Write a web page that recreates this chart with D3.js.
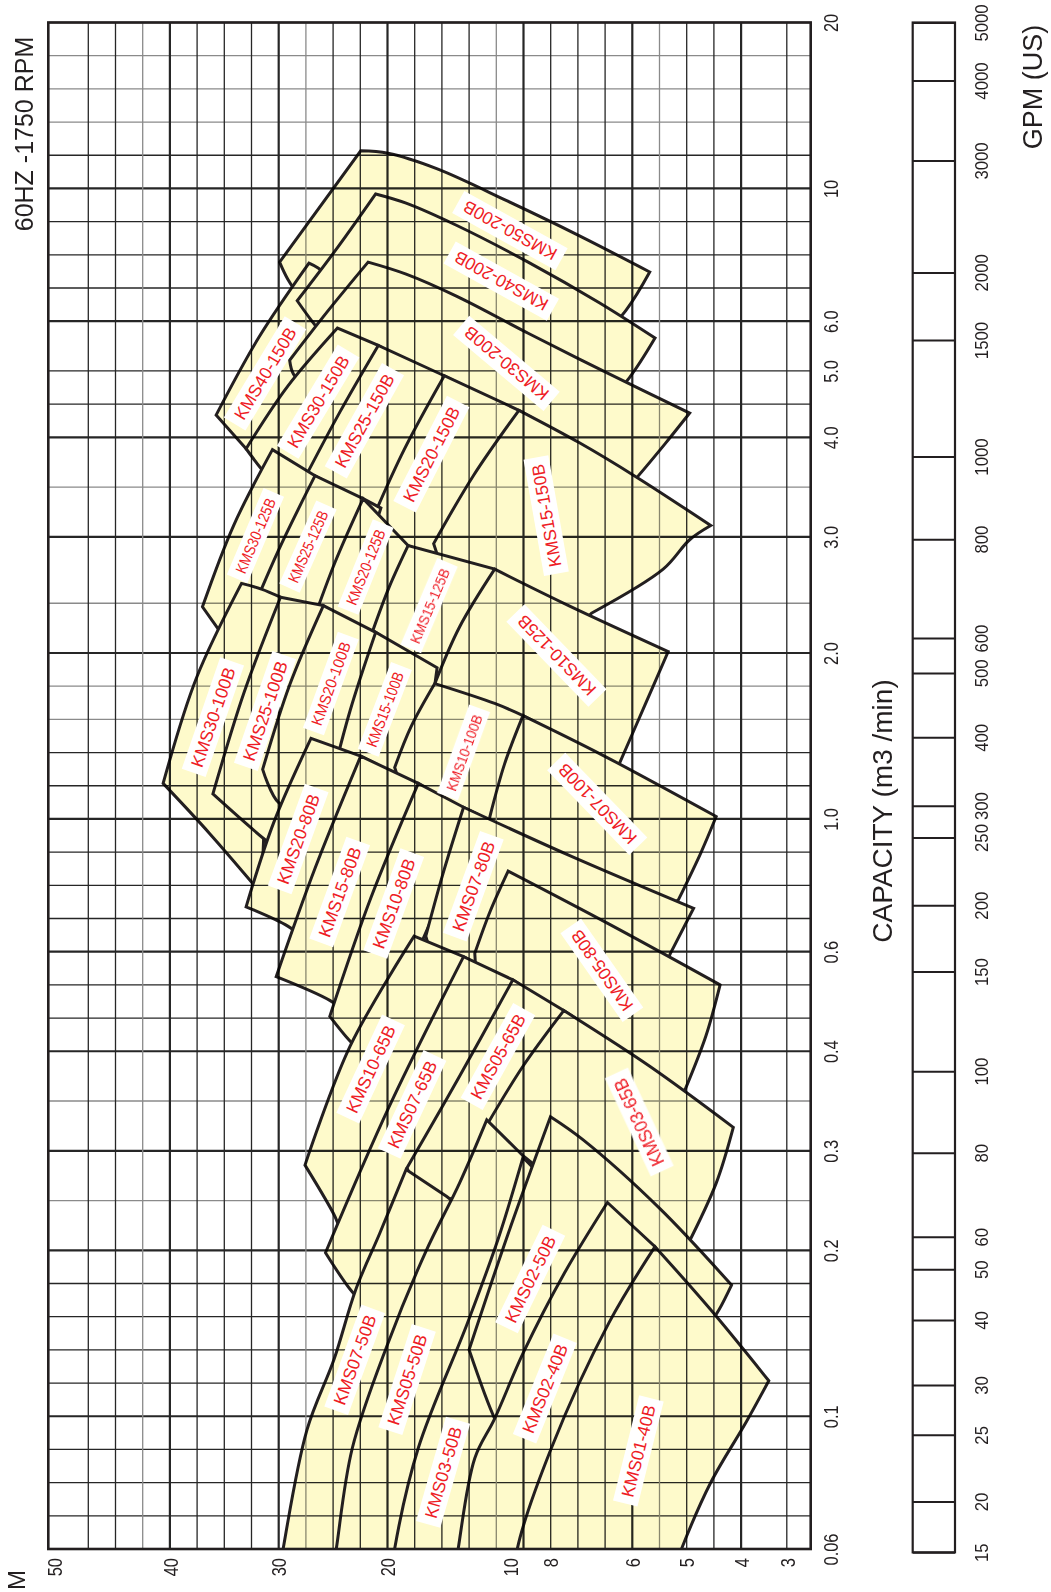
<!DOCTYPE html>
<html>
<head>
<meta charset="utf-8">
<script src="https://cdn.jsdelivr.net/npm/d3@7"></script>
<style>
  body { margin: 0; background: #fff; }
  text { font-family: "Liberation Sans", Arial, Helvetica, sans-serif; }
</style>
</head>
<body>
<div id="chart"></div>
<script>
// ---- data ----
const capTicks = [20, 10, 6, 5, 4, 3, 2, 1, 0.6, 0.4, 0.3, 0.2, 0.1, 0.06];
const capLabels = ["20", "10", "6.0", "5.0", "4.0", "3.0", "2.0", "1.0", "0.6", "0.4", "0.3", "0.2", "0.1", "0.06"];
const headTicks = [50, 40, 30, 20, 10, 8, 6, 5, 4, 3];
const gpmTicks = [5000, 4000, 3000, 2000, 1500, 1000, 800, 600, 500, 400, 300, 250, 200, 150, 100, 80, 60, 50, 40, 30, 25, 20, 15];

// pump label anchors [name, capacity m3/min, head m]
const pumpLabels = [
  ["KMS50-200B", 8.5, 10.0], ["KMS40-200B", 7.0, 10.5], ["KMS30-200B", 5.14, 10.2],
  ["KMS40-150B", 4.96, 31.1], ["KMS30-150B", 4.51, 25.9], ["KMS25-150B", 4.23, 21.8],
  ["KMS20-150B", 3.81, 15.6], ["KMS15-150B", 3.19, 8.2],
  ["KMS30-125B", 3.01, 31.9], ["KMS25-125B", 2.9, 26.9], ["KMS20-125B", 2.7, 21.7],
  ["KMS15-125B", 2.36, 15.8], ["KMS10-125B", 1.98, 7.84],
  ["KMS30-100B", 1.53, 35.7], ["KMS25-100B", 1.57, 31.1], ["KMS20-100B", 1.76, 24.7],
  ["KMS15-100B", 1.58, 20.2], ["KMS10-100B", 1.32, 13.0], ["KMS07-100B", 1.065, 6.79],
  ["KMS20-80B", 0.926, 27.9], ["KMS15-80B", 0.755, 23.9], ["KMS10-80B", 0.722, 19.3],
  ["KMS07-80B", 0.772, 12.3], ["KMS05-80B", 0.556, 6.68],
  ["KMS10-65B", 0.38, 21.3], ["KMS07-65B", 0.343, 17.4], ["KMS05-65B", 0.394, 10.7],
  ["KMS03-65B", 0.326, 5.86],
  ["KMS07-50B", 0.1266, 22.6], ["KMS05-50B", 0.1166, 17.9], ["KMS03-50B", 0.0806, 14.6],
  ["KMS02-50B", 0.1774, 8.95], ["KMS02-40B", 0.1123, 8.26], ["KMS01-40B", 0.0875, 5.88]
];

// operating ranges, outlined edge by edge as [capacity m3/min, head m] points.
// listed in drawing order: later ranges overlap earlier ones
const ranges200and150 = [
  { name: "KMS50-200B", edges: [
    [[7.53, 29.9], [11.7, 22.1]],
    [[11.7, 22.1], [11.58, 19.95], [10.86, 15.14], [9.52, 10.12], [8.34, 7.24], [7.25, 5.66]],
    [[7.25, 5.66], [6.25, 6.14], [5.29, 7.12]],
    [[5.29, 7.12], [6.39, 27.2]],
    [[6.39, 27.2], [7.05, 29.0], [7.53, 29.9]]
  ]},
  { name: "KMS40-150B", edges: [
    [[4.31, 35.4], [5.66, 31.6], [7.50, 26.8]],
    [[7.50, 26.8], [7.36, 25.9], [6.86, 23.9]],
    [[6.86, 23.9], [5.49, 25.7], [3.94, 32.0]],
    [[3.94, 32.0], [3.87, 32.7]],
    [[3.87, 32.7], [4.31, 35.4]]
  ]},
  { name: "KMS40-200B", edges: [
    [[6.49, 28.0], [7.96, 24.1], [9.79, 20.9]],
    [[9.79, 20.9], [9.45, 18.0], [8.67, 13.5], [7.53, 9.05], [6.44, 6.74], [5.64, 5.56]],
    [[5.64, 5.56], [4.89, 6.06], [4.37, 6.74]],
    [[4.37, 6.74], [5.53, 24.8]],
    [[5.53, 24.8], [6.03, 26.6], [6.49, 28.0]]
  ]},
  { name: "KMS30-200B", edges: [
    [[5.20, 28.8], [6.20, 25.1], [7.53, 21.5]],
    [[7.53, 21.5], [7.19, 18.0], [6.60, 13.5], [5.74, 9.05], [4.95, 6.51], [4.34, 4.94]],
    [[4.34, 4.94], [3.93, 5.37], [3.56, 5.91], [3.31, 6.39]],
    [[3.31, 6.39], [4.67, 26.7]],
    [[4.67, 26.7], [4.95, 28.4], [5.20, 28.8]]
  ]},
  { name: "KMS30-150B", edges: [
    [[3.87, 32.7], [4.75, 29.0], [5.85, 24.1]],
    [[5.85, 24.1], [5.49, 20.7]],
    [[5.49, 20.7], [5.29, 19.3]], [[5.29, 19.3], [3.46, 25.4]], [[3.46, 25.4], [3.44, 29.9]],
    [[3.44, 29.9], [3.65, 31.4], [3.87, 32.7]]
  ]},
  { name: "KMS25-150B", edges: [
    [[3.56, 27.2], [4.35, 23.9], [5.49, 20.7]],
    [[5.49, 20.7], [4.92, 14.5]],
    [[4.92, 14.5], [4.79, 13.3]], [[4.79, 13.3], [3.12, 19.6]], [[3.12, 19.6], [3.46, 26.2]],
    [[3.46, 26.2], [3.56, 27.2]]
  ]},
  { name: "KMS20-150B", edges: [
    [[3.12, 21.3], [3.86, 18.2], [4.92, 14.5]],
    [[4.92, 14.5], [4.38, 9.52]],
    [[4.38, 9.52], [4.26, 8.81]], [[4.26, 8.81], [2.68, 14.3]], [[2.68, 14.3], [2.99, 20.9]],
    [[2.99, 20.9], [3.12, 21.3]]
  ]},
  { name: "KMS15-150B", edges: [
    [[2.93, 15.4], [3.58, 12.3], [4.38, 9.52]],
    [[4.38, 9.52], [3.94, 7.24], [3.57, 5.93], [3.10, 4.53]],
    [[3.10, 4.53], [2.97, 4.94], [2.68, 5.41], [2.30, 6.92]],
    [[2.30, 6.92], [2.13, 7.51]], [[2.13, 7.51], [2.55, 14.3]],
    [[2.55, 14.3], [2.93, 15.4]]
  ]}
];

const ranges125 = [
  { name: "KMS30-125B", edges: [
    [[2.35, 36.7], [3.10, 33.8], [3.86, 30.5]],
    [[3.86, 30.5], [3.58, 26.2]],
    [[3.58, 26.2], [3.46, 24.3]], [[3.46, 24.3], [2.02, 29.4]], [[2.02, 29.4], [2.02, 33.8]],
    [[2.02, 33.8], [2.14, 34.9], [2.35, 36.7]]
  ]},
  { name: "KMS25-125B", edges: [
    [[2.18, 32.8], [2.84, 30.1], [3.58, 26.2]],
    [[3.58, 26.2], [3.35, 21.9]],
    [[3.35, 21.9], [3.26, 20.5]], [[3.26, 20.5], [2.02, 24.3]], [[2.02, 24.3], [1.94, 31.0]],
    [[1.94, 31.0], [2.18, 32.8]]
  ]},
  { name: "KMS20-125B", edges: [
    [[2.19, 26.6], [2.75, 24.3], [3.35, 21.9]],
    [[3.35, 21.9], [2.91, 17.8]],
    [[2.91, 17.8], [2.83, 16.0]], [[2.83, 16.0], [1.86, 20.1]], [[1.86, 20.1], [2.09, 25.2]],
    [[2.09, 25.2], [2.12, 26.0], [2.19, 26.6]]
  ]},
  { name: "KMS15-125B", edges: [
    [[2.17, 21.1], [2.52, 19.8], [2.91, 17.8]],
    [[2.91, 17.8], [2.68, 10.9]],
    [[2.68, 10.9], [2.57, 10.1]], [[2.57, 10.1], [1.64, 13.9]], [[1.64, 13.9], [1.94, 20.1]],
    [[1.94, 20.1], [2.17, 21.1]]
  ]},
  { name: "KMS10-125B", edges: [
    [[1.76, 15.3], [2.19, 13.3], [2.68, 10.9]],
    [[2.68, 10.9], [2.36, 7.51], [2.01, 5.32]],
    [[2.01, 5.32], [1.61, 5.75], [1.26, 6.28]],
    [[1.26, 6.28], [1.07, 6.74]], [[1.07, 6.74], [1.57, 15.1]],
    [[1.57, 15.1], [1.76, 15.3]]
  ]}
];

const ranges100 = [
  { name: "KMS30-100B", edges: [
    [[1.16, 40.5], [1.80, 37.3], [2.55, 33.1]],
    [[2.55, 33.1], [2.50, 31.4], [2.43, 29.8]],
    [[2.43, 29.8], [2.33, 28.8]], [[2.33, 28.8], [1.22, 31.0]], [[1.22, 31.0], [0.750, 31.4]],
    [[0.750, 31.4], [0.945, 36.0], [1.16, 40.5]]
  ]},
  { name: "KMS25-100B", edges: [
    [[1.11, 35.7], [1.69, 32.9], [2.43, 29.8]],
    [[2.43, 29.8], [2.36, 25.4]],
    [[2.36, 25.4], [2.23, 23.9]], [[2.23, 23.9], [1.22, 27.2]], [[1.22, 27.2], [0.843, 28.1]],
    [[0.843, 28.1], [0.923, 31.1], [1.11, 35.7]]
  ]},
  { name: "KMS20-100B", edges: [
    [[1.23, 31.3], [1.75, 28.8], [2.36, 25.4]],
    [[2.36, 25.4], [2.15, 20.9]],
    [[2.15, 20.9], [2.06, 19.3]], [[2.06, 19.3], [1.17, 23.0]], [[1.17, 23.0], [1.03, 27.2]],
    [[1.03, 27.2], [1.07, 30.0], [1.23, 31.3]]
  ]},
  { name: "KMS15-100B", edges: [
    [[1.14, 24.8], [1.57, 23.0], [2.15, 20.9]],
    [[2.15, 20.9], [1.88, 15.1]],
    [[1.88, 15.1], [1.75, 15.3]],
    [[1.75, 15.3], [1.44, 16.5]], [[1.44, 16.5], [1.03, 20.1]],
    [[1.03, 20.1], [1.14, 24.8]]
  ]},
  { name: "KMS10-100B", edges: [
    [[1.24, 19.2], [1.47, 17.5], [1.76, 15.3]],
    [[1.76, 15.3], [1.62, 10.9], [1.54, 9.31]],
    [[1.54, 9.31], [1.49, 8.57]], [[1.49, 8.57], [0.986, 10.4]], [[0.986, 10.4], [1.07, 18.0]],
    [[1.07, 18.0], [1.24, 19.2]]
  ]},
  { name: "KMS07-100B", edges: [
    [[1.01, 11.2], [1.26, 10.3], [1.54, 9.31]],
    [[1.54, 9.31], [1.31, 6.70], [1.01, 4.43]],
    [[1.01, 4.43], [0.877, 4.72], [0.733, 5.14]],
    [[0.733, 5.14], [0.680, 5.56]], [[0.680, 5.56], [0.912, 11.4]],
    [[0.912, 11.4], [1.01, 11.2]]
  ]}
];

const ranges80 = [
  { name: "KMS20-80B", edges: [
    [[0.713, 32.7], [0.986, 30.4], [1.40, 26.6]],
    [[1.40, 26.6], [1.30, 22.1]],
    [[1.30, 22.1], [1.26, 20.9]], [[1.26, 20.9], [0.629, 27.2]],
    [[0.629, 27.2], [0.662, 29.0], [0.713, 32.7]]
  ]},
  { name: "KMS15-80B", edges: [
    [[0.542, 30.2], [0.827, 26.2], [1.30, 22.1]],
    [[1.30, 22.1], [1.16, 16.8]],
    [[1.16, 16.8], [1.12, 15.6]], [[1.12, 15.6], [0.463, 23.0]],
    [[0.463, 23.0], [0.492, 24.8], [0.542, 30.2]]
  ]},
  { name: "KMS10-80B", edges: [
    [[0.461, 24.8], [0.736, 21.3], [1.16, 16.8]],
    [[1.16, 16.8], [1.05, 13.0]],
    [[1.05, 13.0], [1.02, 12.0]], [[1.02, 12.0], [0.593, 17.0]], [[0.593, 17.0], [0.394, 21.7]],
    [[0.394, 21.7], [0.419, 23.1], [0.461, 24.8]]
  ]},
  { name: "KMS07-80B", edges: [
    [[0.637, 16.1], [0.811, 14.6], [1.05, 13.0]],
    [[1.05, 13.0], [0.870, 7.51], [0.709, 4.86]],
    [[0.709, 4.86], [0.596, 5.28]],
    [[0.596, 5.28], [0.482, 5.66]], [[0.482, 5.66], [0.546, 15.1]],
    [[0.546, 15.1], [0.637, 16.1]]
  ]},
  { name: "KMS05-80B", edges: [
    [[0.596, 12.2], [0.699, 11.2], [0.818, 10.1]],
    [[0.818, 10.1], [0.667, 6.51], [0.524, 4.36]],
    [[0.524, 4.36], [0.426, 4.62], [0.359, 5.02]],
    [[0.359, 5.02], [0.336, 5.28]], [[0.336, 5.28], [0.482, 12.0]],
    [[0.482, 12.0], [0.596, 12.2]]
  ]}
];

const ranges65 = [
  { name: "KMS10-65B", edges: [
    [[0.283, 27.2], [0.408, 23.0], [0.637, 17.2]],
    [[0.637, 17.2], [0.588, 13.0]],
    [[0.588, 13.0], [0.569, 12.0]], [[0.569, 12.0], [0.209, 21.7]], [[0.209, 21.7], [0.218, 23.9]],
    [[0.218, 23.9], [0.229, 24.3], [0.283, 27.2]]
  ]},
  { name: "KMS07-65B", edges: [
    [[0.198, 25.2], [0.341, 19.8], [0.588, 13.0]],
    [[0.588, 13.0], [0.535, 9.84]],
    [[0.535, 9.84], [0.513, 9.05]], [[0.513, 9.05], [0.228, 17.0]], [[0.228, 17.0], [0.156, 21.3]],
    [[0.156, 21.3], [0.168, 22.8], [0.198, 25.2]]
  ]},
  { name: "KMS05-65B", edges: [
    [[0.280, 17.9], [0.372, 13.3], [0.535, 9.84]],
    [[0.535, 9.84], [0.472, 7.64]],
    [[0.472, 7.64], [0.453, 7.24]], [[0.453, 7.24], [0.247, 12.0]],
    [[0.247, 12.0], [0.252, 16.5], [0.280, 17.9]]
  ]},
  { name: "KMS03-65B", edges: [
    [[0.323, 11.4], [0.383, 9.31], [0.472, 7.64]],
    [[0.472, 7.64], [0.383, 5.66], [0.321, 4.13]],
    [[0.321, 4.13], [0.263, 4.43], [0.203, 5.00]],
    [[0.203, 5.00], [0.193, 5.28]], [[0.193, 5.28], [0.269, 10.1]],
    [[0.269, 10.1], [0.323, 11.4]]
  ]}
];

const ranges50and40 = [
  { name: "KMS07-50B", edges: [
    [[0.0504, 30.2], [0.0601, 29.5], [0.0949, 27.0], [0.127, 24.4], [0.170, 22.5], [0.214, 20.6], [0.278, 18.0]],
    [[0.278, 18.0], [0.249, 14.3]],
    [[0.249, 14.3], [0.237, 13.1]], [[0.237, 13.1], [0.0504, 23.4]],
    [[0.0504, 23.4], [0.0504, 30.2]]
  ]},
  { name: "KMS05-50B", edges: [
    [[0.0504, 24.8], [0.0601, 24.2], [0.0885, 22.8], [0.135, 20.0], [0.199, 16.1], [0.263, 13.3], [0.328, 11.4]],
    [[0.328, 11.4], [0.294, 9.31]],
    [[0.294, 9.31], [0.280, 8.57]], [[0.280, 8.57], [0.0504, 18.0]],
    [[0.0504, 18.0], [0.0504, 24.8]]
  ]},
  { name: "KMS03-50B", edges: [
    [[0.0504, 19.8], [0.0601, 19.2], [0.0885, 16.8], [0.148, 12.7], [0.209, 10.7], [0.292, 9.31]],
    [[0.292, 9.31], [0.280, 8.81]],
    [[0.280, 8.81], [0.258, 8.10]], [[0.258, 8.10], [0.0504, 13.1]],
    [[0.0504, 13.1], [0.0504, 19.8]]
  ]},
  { name: "KMS02-50B", edges: [
    [[0.132, 12.6], [0.214, 10.1], [0.331, 8.01]],
    [[0.331, 8.01], [0.310, 7.15], [0.237, 5.47], [0.173, 4.16]],
    [[0.173, 4.16], [0.156, 4.38], [0.146, 4.57]],
    [[0.146, 4.57], [0.149, 6.51]], [[0.149, 6.51], [0.0906, 10.1]],
    [[0.0906, 10.1], [0.0991, 10.9], [0.132, 12.6]]
  ]},
  { name: "KMS02-40B", edges: [
    [[0.0504, 13.9], [0.0601, 13.4], [0.0851, 12.2], [0.0991, 10.9], [0.130, 9.31], [0.181, 7.64], [0.243, 6.55]],
    [[0.243, 6.55], [0.203, 5.56]],
    [[0.203, 5.56], [0.185, 5.28]], [[0.185, 5.28], [0.0504, 9.05]],
    [[0.0504, 9.05], [0.0504, 13.9]]
  ]},
  { name: "KMS01-40B", edges: [
    [[0.0504, 9.84], [0.0601, 9.60], [0.0885, 7.98], [0.148, 6.51], [0.203, 5.56]],
    [[0.203, 5.56], [0.156, 4.53], [0.116, 3.36]],
    [[0.116, 3.36], [0.0979, 3.87], [0.0775, 4.53], [0.0603, 5.08], [0.0504, 5.37]],
    [[0.0504, 5.37], [0.0504, 9.84]]
  ]}
];

// ---- layout ----
const W = 1051, H = 1592;
const plot = { left: 48.3, right: 810.7, top: 22.5, bottom: 1549 };
const rowCount = 46;
const capTickRows = [0, 5, 9, 10.5, 12.5, 15.5, 19, 24, 28, 31, 34, 37, 42, 46];
const gpmTickRows = [0, 1.75, 4.16, 7.53, 9.57, 13.08, 15.57, 18.55, 19.6, 21.54, 23.6, 24.56, 26.6, 28.6,
  31.6, 34.06, 36.59, 37.57, 39.1, 41.06, 42.56, 44.57, 46.1];
const colX0 = 88.3, colW = 27.2;
const headTickCols = [-1.47, 3, 7, 11, 15.5, 17, 20, 22, 24, 25.68];
const gridRows = [...d3.range(0, 10), 10.5, 11.5, 12.5, 14, 15.5, 17.5, ...d3.range(19, 32), 32.5, 34, 35.5, ...d3.range(37, 47)];
const gridCols = [...d3.range(0, 25), 25.68];
const thickRows = [5, 9, 12.5, 15.5, 19, 24, 28, 31, 34, 37, 42];
const grayRows = [1, 2, 3, 14, 17.5, 20, 21, 32.5, 35.5];
const thickCols = [3, 7, 11, 16, 20, 24];
const grayCols = [2, 8, 15, 21];
const gpmBox = { x0: 912.7, x1: 955 };

const labelAngle = {
  "KMS50-200B": -151, "KMS40-200B": -151, "KMS30-200B": -140,
  "KMS40-150B": -59, "KMS30-150B": -59, "KMS25-150B": -61, "KMS20-150B": -63, "KMS15-150B": -100,
  "KMS30-125B": -67, "KMS25-125B": -66, "KMS20-125B": -68, "KMS15-125B": -67, "KMS10-125B": -134,
  "KMS30-100B": -71, "KMS25-100B": -71, "KMS20-100B": -70, "KMS15-100B": -69, "KMS10-100B": -70, "KMS07-100B": -134,
  "KMS20-80B": -70, "KMS15-80B": -70, "KMS10-80B": -70, "KMS07-80B": -70, "KMS05-80B": -125,
  "KMS10-65B": -65, "KMS07-65B": -65, "KMS05-65B": -61, "KMS03-65B": -115,
  "KMS07-50B": -70, "KMS05-50B": -72, "KMS03-50B": -74, "KMS02-50B": -64, "KMS02-40B": -68, "KMS01-40B": -76
};
// narrow labels squeezed to a set length
const labelSqueeze = {
  "KMS30-125B": 80, "KMS25-125B": 77, "KMS20-125B": 80, "KMS15-125B": 80,
  "KMS20-100B": 88, "KMS15-100B": 79, "KMS10-100B": 80
};

const svg = d3.select("#chart").append("svg")
  .attr("width", W).attr("height", H);

const rowY = d3.scaleLinear().domain([0, rowCount]).range([plot.top, plot.bottom]);
const colX = d3.scaleLinear().domain([0, 1]).range([colX0, colX0 + colW]);

const yCap = d3.scaleLog().domain(capTicks).range(capTickRows.map(rowY));
const xHead = d3.scaleLog().domain(headTicks).range(headTickCols.map(colX));
const yGpm = d3.scaleLog().domain(gpmTicks).range(gpmTickRows.map(rowY));

svg.append("clipPath").attr("id", "plot-clip")
  .append("rect")
  .attr("x", plot.left).attr("y", plot.top)
  .attr("width", plot.right - plot.left).attr("height", plot.bottom - plot.top);

// pump ranges
const edgeLine = d3.line()
  .x(d => xHead(d[1]))
  .y(d => yCap(d[0]))
  .curve(d3.curveCatmullRom.alpha(0.5));

function outline(edges) {
  return edges.map((e, i) => {
    const p = edgeLine(e);
    return i ? p.replace(/^M/, "L") : p;
  }).join("") + "Z";
}

const allRanges = [...ranges200and150, ...ranges125, ...ranges100, ...ranges80, ...ranges65, ...ranges50and40];

svg.append("g")
  .attr("clip-path", "url(#plot-clip)")
  .selectAll("path")
  .data(allRanges)
  .join("path")
  .attr("d", d => outline(d.edges))
  .attr("fill", "#fefacb")
  .attr("stroke", "#231f20")
  .attr("stroke-width", 3)
  .attr("stroke-linejoin", "miter");

// grid on top of the fills
const grid = svg.append("g").style("mix-blend-mode", "multiply");

grid.selectAll("line.row")
  .data(gridRows)
  .join("line")
  .attr("class", "row")
  .attr("x1", plot.left).attr("x2", plot.right)
  .attr("y1", r => rowY(r)).attr("y2", r => rowY(r))
  .attr("stroke", r => grayRows.includes(r) ? "#8a8a8a" : "#262626")
  .attr("stroke-width", r => thickRows.includes(r) ? 2.2 : 1.3);

grid.selectAll("line.col")
  .data(gridCols)
  .join("line")
  .attr("class", "col")
  .attr("y1", plot.top).attr("y2", plot.bottom)
  .attr("x1", c => colX(c)).attr("x2", c => colX(c))
  .attr("stroke", c => grayCols.includes(c) ? "#8a8a8a" : "#262626")
  .attr("stroke-width", c => thickCols.includes(c) ? 2.2 : 1.3);

svg.append("rect")
  .attr("x", plot.left).attr("y", plot.top)
  .attr("width", plot.right - plot.left).attr("height", plot.bottom - plot.top)
  .attr("fill", "none").attr("stroke", "#231f20").attr("stroke-width", 2.6);

// pump labels
const lab = svg.append("g")
  .selectAll("g")
  .data(pumpLabels)
  .join("g")
  .attr("transform", d => `translate(${xHead(d[2])},${yCap(d[1])}) rotate(${labelAngle[d[0]]})`);

lab.append("text")
  .attr("text-anchor", "middle")
  .attr("dy", "0.36em")
  .attr("font-size", d => labelSqueeze[d[0]] ? 15.5 : 17.5)
  .attr("fill", "#ee1c25")
  .each(function (d) {
    if (labelSqueeze[d[0]]) {
      d3.select(this).attr("textLength", labelSqueeze[d[0]]).attr("lengthAdjust", "spacingAndGlyphs");
    }
  })
  .text(d => d[0]);

lab.insert("rect", "text")
  .each(function (d) {
    const t = d3.select(this.parentNode).select("text");
    const len = labelSqueeze[d[0]] || t.node().getComputedTextLength();
    const fs = +t.attr("font-size");
    d3.select(this)
      .attr("x", -len / 2 - 7).attr("width", len + 14)
      .attr("y", -fs * 0.72).attr("height", fs * 1.44)
      .attr("fill", "#fff");
  });

// head axis (bottom)
const headAxis = svg.append("g")
  .attr("transform", `translate(0,${plot.bottom})`)
  .call(d3.axisBottom(xHead).tickValues(headTicks).tickFormat(d3.format("d")).tickSize(0));
headAxis.select(".domain").remove();
headAxis.selectAll("text")
  .attr("transform", "rotate(-90) scale(0.82,1)")
  .attr("x", -11).attr("y", 0)
  .attr("dy", d => d === 50 ? "0.68em" : "0.36em")
  .attr("text-anchor", "end")
  .attr("font-size", 20)
  .attr("fill", "#231f20");

// capacity axis (right)
const capAxis = svg.append("g")
  .attr("transform", `translate(${plot.right},0)`)
  .call(d3.axisRight(yCap).tickValues(capTicks).tickFormat((d, i) => capLabels[i]).tickSize(0));
capAxis.select(".domain").remove();
capAxis.selectAll("text")
  .attr("transform", "rotate(-90) scale(0.78,1)")
  .attr("x", 0).attr("y", 27).attr("dy", 0)
  .attr("text-anchor", "middle")
  .attr("font-size", 21)
  .attr("fill", "#231f20");

// gpm strip
const gpmAxis = svg.append("g")
  .attr("transform", `translate(${gpmBox.x1},0)`)
  .call(d3.axisLeft(yGpm).tickValues(gpmTicks).tickFormat(d3.format("d")).tickSize(gpmBox.x1 - gpmBox.x0));
gpmAxis.select(".domain").remove();
gpmAxis.selectAll("line").attr("stroke", "#231f20").attr("stroke-width", 2);
gpmAxis.selectAll("text")
  .attr("transform", "rotate(-90) scale(0.88,1)")
  .attr("x", 0).attr("y", 33).attr("dy", 0)
  .attr("text-anchor", "middle")
  .attr("font-size", 19)
  .attr("fill", "#231f20");

svg.append("rect")
  .attr("x", gpmBox.x0).attr("y", yGpm(5000))
  .attr("width", gpmBox.x1 - gpmBox.x0).attr("height", yGpm(15) - yGpm(5000))
  .attr("fill", "none").attr("stroke", "#231f20").attr("stroke-width", 2.2);

// titles
const titles = [
  { t: "60HZ -1750 RPM", x: 33, y: 134, fs: 25 },
  { t: "M", x: 25, y: 1580, fs: 24 },
  { t: "CAPACITY (m3 /min)", x: 892, y: 811, fs: 28 },
  { t: "GPM (US)", x: 1042, y: 87, fs: 27 }
];
svg.selectAll("text.title")
  .data(titles)
  .join("text")
  .attr("class", "title")
  .attr("transform", d => `translate(${d.x},${d.y}) rotate(-90)`)
  .attr("text-anchor", "middle")
  .attr("font-size", d => d.fs)
  .attr("fill", "#231f20")
  .text(d => d.t);
</script>
</body>
</html>
